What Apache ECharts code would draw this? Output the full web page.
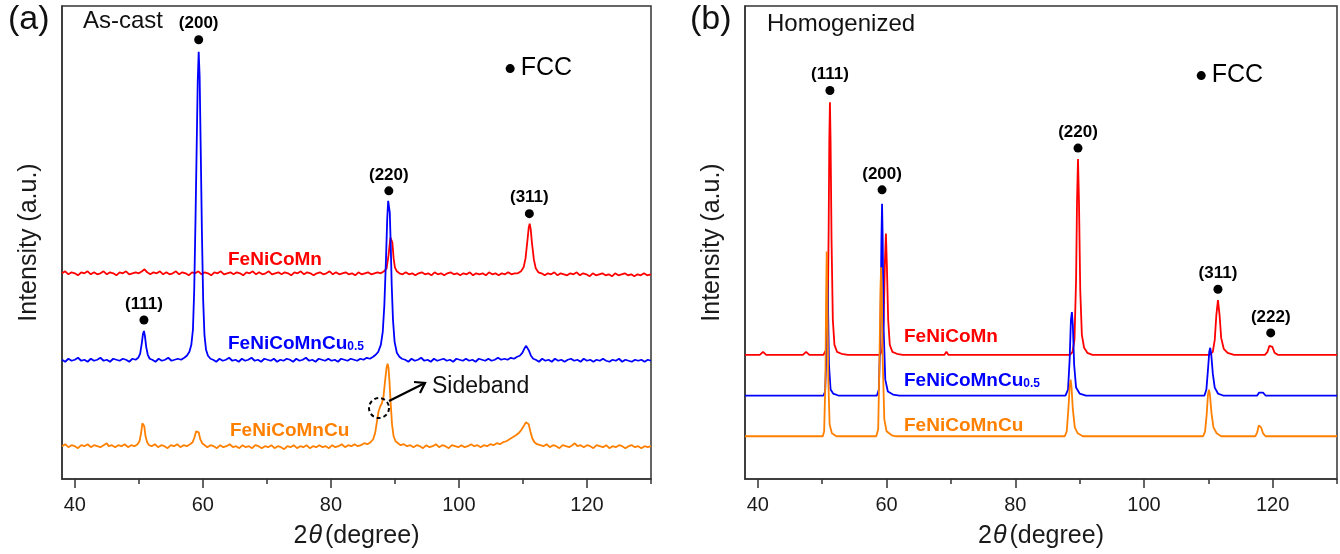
<!DOCTYPE html>
<html>
<head>
<meta charset="utf-8">
<script src="https://cdn.jsdelivr.net/npm/echarts@6/dist/echarts.min.js"></script>
<style>
html,body{margin:0;padding:0;background:#fff;}
#c{width:1340px;height:554px;}
</style>
</head>
<body>
<div id="c"></div>
<script>
// ---------- axis / tick data ----------
const xMin = 38, xMax = 130;
const majorTicks = [40, 60, 80, 100, 120];
const minorTicks = [50, 70, 90, 110, 130];
const yMin = 0, yMax = 476;

// ---------- (a) As-cast : [2theta, intensity (offset, a.u.)] ----------
const asCastRed = [[38,207],[38.5,209],[39,206],[39.5,208],[40,207],[40.5,205],[41,208],[41.5,207],[42,209],[42.5,206],[43,208],[43.5,206],[44,207],[44.5,209],[45,206],[45.5,208],[46,207],[46.5,205],[47,208],[47.5,207],[48,209],[48.5,206],[49,207],[49.5,208],[50,207],[50.5,209],[50.9,211],[51.3,208],[51.8,206],[52.3,208],[52.8,207],[53.3,209],[53.8,206],[54.3,208],[54.8,206],[55.3,207],[55.8,209],[56.3,206],[56.8,208],[57.3,207],[57.8,205],[58.3,208],[58.8,207],[59.3,209],[59.8,206],[60.3,208],[60.8,207],[61.3,205],[61.8,208],[62.3,207],[62.8,209],[63.3,206],[63.8,207],[64.3,208],[64.8,206],[65.3,208],[65.8,207],[66.3,205],[66.8,208],[67.3,207],[67.8,209],[68.3,206],[68.8,208],[69.3,206],[69.8,207],[70.3,209],[70.8,206],[71.3,207],[71.8,208],[72.3,206],[72.8,208],[73.3,207],[73.8,205],[74.3,208],[74.8,207],[75.3,209],[75.8,206],[76.3,208],[76.8,207],[77.3,205],[77.8,207],[78.3,208],[78.8,206],[79.3,207],[79.8,209],[80.3,206],[80.8,208],[81.3,206],[81.8,207],[82.3,208],[82.8,206],[83.3,207],[83.8,205],[84.3,208],[84.8,206],[85.3,207],[85.8,208],[86.3,206],[86.8,207],[87.3,208],[87.8,207],[88.3,209],[88.7,212],[89.0,225],[89.3,243],[89.45,245],[89.6,238],[89.8,222],[90.0,213],[90.3,209],[90.7,207],[91.2,206],[91.7,208],[92.2,206],[92.7,207],[93.2,205],[93.7,207],[94.2,208],[94.7,206],[95.2,207],[95.7,205],[96.2,208],[96.7,206],[97.2,207],[97.7,205],[98.2,207],[98.7,208],[99.2,206],[99.7,207],[100.2,205],[100.7,207],[101.2,206],[101.7,208],[102.2,205],[102.7,207],[103.2,206],[103.7,207],[104.2,205],[104.7,208],[105.2,206],[105.7,207],[106.2,205],[106.7,207],[107.2,206],[107.7,208],[108.2,206],[108.7,207],[109.2,207],[109.7,209],[110.1,213],[110.4,222],[110.7,240],[110.9,253],[111.05,257],[111.2,252],[111.4,238],[111.7,221],[112.0,212],[112.4,208],[112.9,207],[113.4,205],[113.9,207],[114.4,206],[114.9,208],[115.4,205],[115.9,207],[116.4,206],[116.9,205],[117.4,207],[117.9,206],[118.4,208],[118.9,205],[119.4,207],[119.9,206],[120.4,204],[120.9,207],[121.4,205],[121.9,206],[122.4,207],[122.9,205],[123.4,206],[123.9,204],[124.4,207],[124.9,205],[125.4,206],[125.9,207],[126.4,205],[126.9,206],[127.4,204],[127.9,206],[128.4,205],[128.9,207],[129.4,205],[130,206]];

const asCastBlue = [[38,120],[38.5,118],[39,121],[39.5,119],[40,120],[40.5,122],[41,119],[41.5,120],[42,118],[42.5,121],[43,119],[43.5,120],[44,122],[44.5,119],[45,120],[45.5,118],[46,121],[46.5,120],[47,119],[47.5,121],[48,120],[48.5,118],[49,121],[49.5,120],[49.9,122],[50.2,126],[50.45,136],[50.65,146],[50.8,149],[50.95,144],[51.15,133],[51.4,125],[51.7,121],[52.1,120],[52.6,118],[53.1,121],[53.6,119],[54.1,120],[54.6,122],[55.1,119],[55.6,120],[56.1,121],[56.6,120],[57.1,122],[57.5,124],[57.9,128],[58.2,135],[58.45,150],[58.65,190],[58.85,260],[59.05,340],[59.2,400],[59.35,430],[59.5,405],[59.65,340],[59.85,250],[60.05,180],[60.25,145],[60.5,130],[60.8,124],[61.2,121],[61.6,120],[62.1,118],[62.6,121],[63.1,119],[63.6,120],[64.1,122],[64.6,119],[65.1,120],[65.6,118],[66.1,121],[66.6,119],[67.1,120],[67.6,122],[68.1,119],[68.6,120],[69.1,118],[69.6,121],[70.1,120],[70.6,119],[71.1,121],[71.6,118],[72.1,120],[72.6,119],[73.1,121],[73.6,120],[74.1,118],[74.6,121],[75.1,119],[75.6,120],[76.1,122],[76.6,119],[77.1,120],[77.6,118],[78.1,121],[78.6,120],[79.1,119],[79.6,121],[80.1,119],[80.6,120],[81.1,118],[81.6,121],[82.1,120],[82.6,119],[83.1,121],[83.6,120],[84.1,119],[84.6,121],[85.1,120],[85.6,122],[86.1,121],[86.6,123],[87.0,125],[87.4,128],[87.8,135],[88.1,148],[88.35,175],[88.6,220],[88.8,262],[88.95,280],[89.05,282],[89.2,268],[89.35,235],[89.5,195],[89.7,160],[89.95,138],[90.3,127],[90.7,123],[91.1,121],[91.6,120],[92.1,118],[92.6,121],[93.1,119],[93.6,120],[94.1,122],[94.6,119],[95.1,120],[95.6,118],[96.1,121],[96.6,119],[97.1,120],[97.6,121],[98.1,119],[98.6,120],[99.1,118],[99.6,121],[100.1,120],[100.6,119],[101.1,121],[101.6,119],[102.1,120],[102.6,118],[103.1,121],[103.6,120],[104.1,119],[104.6,121],[105.1,119],[105.6,120],[106.1,122],[106.6,120],[107.1,121],[107.6,120],[108.1,122],[108.6,121],[109.1,123],[109.5,124],[109.9,127],[110.2,131],[110.5,134],[110.7,133],[110.95,129],[111.25,124],[111.6,121],[112.0,120],[112.5,118],[113,121],[113.5,119],[114,120],[114.5,118],[115,121],[115.5,119],[116,120],[116.5,118],[117,120],[117.5,121],[118,119],[118.5,120],[119,118],[119.5,121],[120,119],[120.5,120],[121,118],[121.5,120],[122,119],[122.5,121],[123,119],[123.5,118],[124,120],[124.5,119],[125,121],[125.5,118],[126,120],[126.5,119],[127,118],[127.5,120],[128,119],[128.5,120],[129,118],[129.5,120],[130,119]];

const asCastOrange = [[38,33],[38.5,35],[39,32],[39.5,34],[40,33],[40.5,31],[41,34],[41.5,33],[42,35],[42.5,32],[43,34],[43.5,33],[44,32],[44.5,34],[45,36],[45.3,33],[45.8,34],[46.3,32],[46.8,34],[47.3,33],[47.8,35],[48.3,32],[48.8,34],[49.3,33],[49.8,35],[50.1,38],[50.35,46],[50.55,56],[50.7,58],[50.85,53],[51.05,43],[51.3,37],[51.6,34],[52,33],[52.5,35],[53,32],[53.5,34],[54,33],[54.5,31],[55,34],[55.5,33],[56,35],[56.5,32],[57,34],[57.5,33],[58,35],[58.4,37],[58.7,42],[58.95,48],[59.15,50],[59.35,47],[59.6,40],[59.9,36],[60.3,34],[60.7,32],[61.2,34],[61.7,33],[62.2,31],[62.7,34],[63.2,32],[63.7,33],[64.2,35],[64.7,32],[65.2,33],[65.7,31],[66.2,34],[66.7,32],[67.2,33],[67.7,31],[68.2,34],[68.7,33],[69.2,31],[69.7,33],[70.2,32],[70.7,34],[71.2,31],[71.7,33],[72.2,32],[72.7,30],[73.2,33],[73.7,32],[74.2,34],[74.7,31],[75.2,33],[75.7,32],[76.2,34],[76.7,31],[77.2,33],[77.7,32],[78.2,34],[78.7,32],[79.2,33],[79.7,31],[80.2,34],[80.7,32],[81.2,33],[81.7,35],[82.2,32],[82.7,34],[83.2,33],[83.7,35],[84.2,33],[84.7,34],[85.2,36],[85.7,35],[86.2,37],[86.6,40],[86.9,46],[87.2,58],[87.45,68],[87.7,73],[87.95,76],[88.2,82],[88.45,98],[88.7,112],[88.85,116],[89.0,112],[89.15,98],[89.35,75],[89.55,55],[89.8,43],[90.1,38],[90.5,36],[90.9,34],[91.4,35],[91.9,33],[92.4,34],[92.9,32],[93.4,34],[93.9,33],[94.4,31],[94.9,34],[95.4,32],[95.9,33],[96.4,35],[96.9,32],[97.4,34],[97.9,33],[98.4,31],[98.9,34],[99.4,33],[99.9,32],[100.4,34],[100.9,32],[101.4,33],[101.9,35],[102.4,33],[102.9,34],[103.4,32],[103.9,34],[104.4,33],[104.9,35],[105.4,34],[105.9,36],[106.4,35],[106.9,37],[107.4,38],[107.9,40],[108.4,42],[108.9,44],[109.3,46],[109.7,49],[110.1,53],[110.45,57],[110.7,58],[110.9,55],[111.15,48],[111.45,41],[111.8,37],[112.2,35],[112.7,34],[113.2,33],[113.7,35],[114.2,32],[114.7,34],[115.2,33],[115.7,31],[116.2,34],[116.7,33],[117.2,32],[117.7,34],[118.1,36],[118.5,33],[119,34],[119.5,32],[120,34],[120.5,33],[121,31],[121.5,34],[122,33],[122.5,32],[123,34],[123.5,31],[124,33],[124.5,32],[125,34],[125.5,33],[126,31],[126.5,33],[127,34],[127.5,32],[128,33],[128.5,31],[129,33],[129.5,32],[130,33]];

// FCC peak markers (a): [2theta, intensity, label]
const asCastPeaks = [[50.8,160,'(111)'],[59.35,442,'(200)'],[89.05,290,'(220)'],[111.0,267,'(311)']];
const asCastLegend = [[108.0,413,'FCC']];

// ---------- (b) Homogenized ----------
const homRed = [[38,125],[40.3,125],[40.8,128],[41.3,125],[47.0,125],[47.5,128],[48.0,125],[50.2,125],[50.6,130],[50.85,160],[51.0,250],[51.1,340],[51.2,379],[51.3,340],[51.45,240],[51.65,160],[51.9,135],[52.3,128],[53,126],[54,125],[59.0,125],[59.3,130],[59.55,160],[59.75,220],[59.9,247],[60.05,215],[60.25,160],[60.5,135],[60.9,128],[61.6,126],[62.5,125],[69.0,125],[69.3,128],[69.6,125],[88.5,125],[88.9,128],[89.2,140],[89.45,200],[89.6,280],[89.75,322],[89.9,280],[90.1,190],[90.35,145],[90.7,132],[91.2,127],[92,125],[110.2,125],[110.7,128],[111.0,140],[111.25,165],[111.5,180],[111.75,165],[112.0,142],[112.4,131],[113,127],[114,125],[118.8,125],[119.2,128],[119.5,134],[119.7,136],[119.95,133],[120.3,127],[120.8,125],[130,125]];

const homBlue = [[38,84],[50.2,84],[50.45,88],[50.6,115],[50.72,175],[50.8,200],[50.9,175],[51.05,115],[51.3,90],[51.7,86],[52.5,84],[58.5,84],[58.8,90],[59.05,150],[59.2,240],[59.3,277],[59.4,240],[59.55,150],[59.8,100],[60.2,88],[61,85],[62,84],[87.8,84],[88.2,90],[88.45,120],[88.65,160],[88.8,168],[88.95,155],[89.15,115],[89.45,92],[90,86],[91,84],[109.4,84],[109.7,90],[109.95,110],[110.15,128],[110.3,132],[110.45,126],[110.7,106],[111.0,92],[111.5,86],[112.3,84],[117.6,84],[117.9,87],[118.2,89],[118.5,87],[118.9,84],[130,84]];

const homOrange = [[38,43],[50.1,43],[50.3,48],[50.5,100],[50.6,180],[50.7,229],[50.8,180],[50.95,100],[51.15,55],[51.5,46],[52.2,43],[58.4,43],[58.7,50],[58.9,120],[59.05,190],[59.15,213],[59.25,190],[59.4,120],[59.65,60],[60.0,48],[60.8,44],[61.5,43],[87.7,43],[88.0,48],[88.25,70],[88.45,92],[88.6,100],[88.75,92],[88.95,70],[89.25,52],[89.7,46],[90.5,43],[109.2,43],[109.5,48],[109.75,65],[109.95,85],[110.1,90],[110.25,85],[110.5,66],[110.8,52],[111.3,46],[112,43],[117.3,43],[117.6,47],[117.85,54],[118.0,55],[118.2,52],[118.5,46],[118.9,43],[130,43]];

const homPeaks = [[51.2,391,'(111)'],[59.3,291,'(200)'],[89.75,333,'(220)'],[111.5,191,'(311)'],[119.7,147,'(222)']];
const homLegend = [[108.9,406,'FCC']];

const RED = '#ff0000', BLUE = '#0000ff', ORANGE = '#ff8000';
const FONT = '"Liberation Sans", Arial, sans-serif';

// ---------- build option ----------
function grid(left, width) {
  return { left: left, top: 6, width: width, height: 476, show: true,
           borderColor: '#333', borderWidth: 1.5, backgroundColor: 'transparent' };
}
function majorX(gi) {
  return {
    gridIndex: gi, type: 'value', min: xMin, max: xMax, position: 'bottom',
    axisLine: { show: true, onZero: false, lineStyle: { color: '#333', width: 1.5 } },
    axisTick: { show: true, customValues: majorTicks, length: 9, lineStyle: { color: '#333', width: 1.5 } },
    axisLabel: { show: true, customValues: majorTicks, fontSize: 20, color: '#1a1a1a', margin: 16, fontFamily: FONT },
    splitLine: { show: false },
    name: '{n|2}{t|θ}{n|(degree)}', nameLocation: 'middle', nameGap: 45,
    nameTextStyle: { rich: {
      n: { fontSize: 25, color: '#1a1a1a', fontFamily: FONT },
      t: { fontSize: 25, color: '#1a1a1a', fontFamily: FONT, fontStyle: 'italic', padding: [0, 3, 0, 1] }
    } }
  };
}
function minorX(gi) {
  return {
    gridIndex: gi, type: 'value', min: xMin, max: xMax, position: 'bottom',
    axisLine: { show: false, onZero: false },
    axisTick: { show: true, customValues: minorTicks, length: 5, lineStyle: { color: '#333', width: 1.5 } },
    axisLabel: { show: false }, splitLine: { show: false }
  };
}
function yAx(gi) {
  return {
    gridIndex: gi, type: 'value', min: yMin, max: yMax,
    axisLine: { show: true, onZero: false, lineStyle: { color: '#333', width: 1.5 } },
    axisTick: { show: false }, axisLabel: { show: false }, splitLine: { show: false },
    name: 'Intensity (a.u.)', nameLocation: 'middle', nameGap: 20,
    nameTextStyle: { fontSize: 25, color: '#1a1a1a', fontFamily: FONT }
  };
}
function lineS(xi, yi, data, color, w) {
  return { type: 'line', xAxisIndex: xi, yAxisIndex: yi, data: data, showSymbol: false,
           symbol: 'none', lineStyle: { color: color, width: w }, z: 3, silent: true };
}
function peakS(xi, yi, arr) {
  return { type: 'scatter', xAxisIndex: xi, yAxisIndex: yi, symbolSize: 9, z: 5,
    itemStyle: { color: '#000', opacity: 1 },
    data: arr.map(p => ({ value: [p[0], p[1]], name: p[2] })),
    label: { show: true, position: 'top', distance: 3, formatter: '{b}', opacity: 1,
             fontSize: 17, fontWeight: 'bold', color: '#000', fontFamily: FONT } };
}
function legendS(xi, yi, arr) {
  return { type: 'scatter', xAxisIndex: xi, yAxisIndex: yi, symbolSize: 9, z: 5,
    itemStyle: { color: '#000', opacity: 1 },
    data: arr.map(p => ({ value: [p[0], p[1]], name: p[2] })),
    label: { show: true, position: 'right', distance: 6, formatter: '{b}', opacity: 1,
             fontSize: 25, color: '#000', fontFamily: FONT } };
}
function seriesLabel(x, y, main, sub, color) {
  const text = sub ? '{m|' + main + '}{s|' + sub + '}' : '{m|' + main + '}';
  return { type: 'text', left: x, top: y, z: 10,
    style: { text: text, rich: {
      m: { fontSize: 19, fontWeight: 'bold', fill: color, fontFamily: FONT, lineHeight: 22, verticalAlign: 'bottom' },
      s: { fontSize: 12, fontWeight: 'bold', fill: color, fontFamily: FONT, lineHeight: 8, verticalAlign: 'bottom' }
    } } };
}
function plainText(x, y, text, size) {
  return { type: 'text', left: x, top: y, z: 10,
    style: { text: text, fontSize: size, fill: '#111', fontFamily: FONT } };
}

const option = {
  backgroundColor: '#fff',
  animation: false,
  grid: [grid(62, 589), grid(745, 592)],
  xAxis: [majorX(0), minorX(0), majorX(1), minorX(1)],
  yAxis: [yAx(0), yAx(1)],
  series: [
    lineS(0, 0, asCastRed, RED, 1.8),
    lineS(0, 0, asCastBlue, BLUE, 1.8),
    lineS(0, 0, asCastOrange, ORANGE, 1.8),
    peakS(0, 0, asCastPeaks),
    legendS(0, 0, asCastLegend),
    lineS(2, 1, homRed, RED, 1.8),
    lineS(2, 1, homBlue, BLUE, 1.8),
    lineS(2, 1, homOrange, ORANGE, 1.8),
    peakS(2, 1, homPeaks),
    legendS(2, 1, homLegend)
  ],
  graphic: [
    plainText(8, 3, '(a)', 34),
    plainText(690, 3, '(b)', 34),
    plainText(83, 9, 'As-cast', 24),
    plainText(767, 12, 'Homogenized', 24),
    seriesLabel(228, 250, 'FeNiCoMn', null, RED),
    seriesLabel(228, 334, 'FeNiCoMnCu', '0.5', BLUE),
    seriesLabel(230, 421, 'FeNiCoMnCu', null, ORANGE),
    seriesLabel(904, 327, 'FeNiCoMn', null, RED),
    seriesLabel(904, 371, 'FeNiCoMnCu', '0.5', BLUE),
    seriesLabel(904, 416, 'FeNiCoMnCu', null, ORANGE),
    { type: 'circle', shape: { cx: 379, cy: 408, r: 10 }, z: 10,
      style: { fill: 'none', stroke: '#000', lineWidth: 2, lineDash: [4, 3] } },
    { type: 'line', shape: { x1: 389, y1: 401, x2: 425, y2: 383 }, z: 10,
      style: { stroke: '#000', lineWidth: 2.2 } },
    { type: 'polyline', shape: { points: [[414, 382], [425, 383], [420, 393]] }, z: 10,
      style: { stroke: '#000', lineWidth: 2.2, fill: 'none' } },
    plainText(432, 375, 'Sideband', 23)
  ]
};

const chart = echarts.init(document.getElementById('c'), null, { renderer: 'canvas' });
chart.setOption(option);
</script>
</body>
</html>
